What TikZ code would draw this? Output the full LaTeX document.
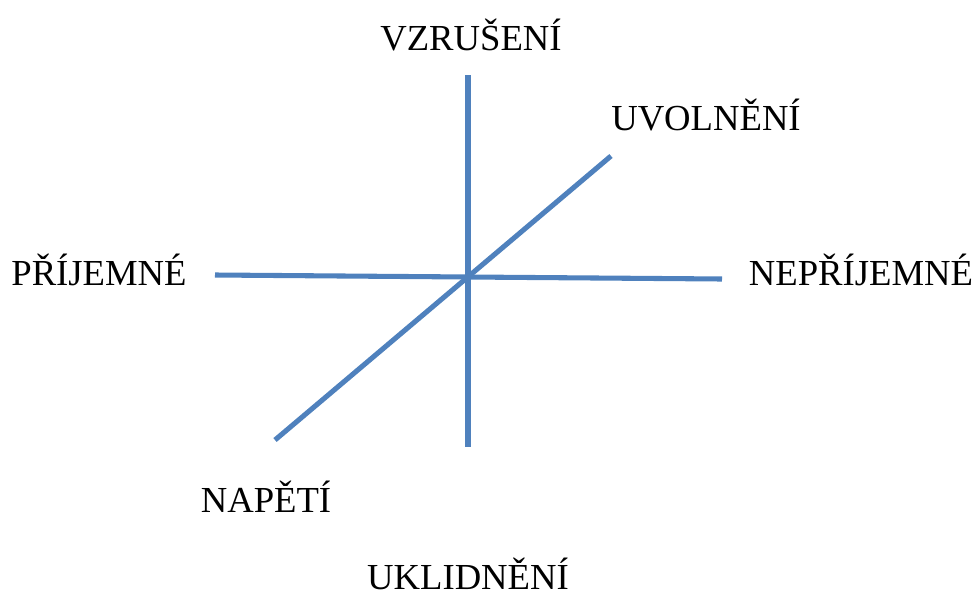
\documentclass[tikz,border=0pt]{standalone}
\usepackage{fontspec}
\setmainfont{Liberation Serif}
\definecolor{axisblue}{RGB}{79, 129, 189}
\usetikzlibrary{positioning}

\begin{document}
\begin{tikzpicture}[x=0.75pt, y=-0.75pt,
                    axis/.style={axisblue, line width=3.8pt},
                    pole/.style={font=\fontsize{27.5}{33}\selectfont, anchor=base, inner sep=0pt}]
                    \useasboundingbox (0, 0) rectangle (976, 597);
                    \coordinate (vtop) at (468, 75);
                    \coordinate (vbot) at (468, 447);
                    \coordinate (hleft) at (215, 275);
                    \coordinate (hright) at (722, 279);
                    \coordinate (dlow) at (275, 440);
                    \coordinate (dhigh) at (611, 156);
                    \draw[axis] (vtop) -- (vbot);
                    \draw[axis] (hleft) -- (hright);
                    \draw[axis] (dlow) -- (dhigh);
                    \node[pole] (vzruseni) at (471, 50) {VZRUŠENÍ};
                    \node[pole] (uvolneni) at (706, 130) {UVOLNĚNÍ};
                    \node[pole] (prijemne) at (99, 285) {PŘÍJEMNÉ};
                    \node[pole] (neprijemne) at (861, 285) {NEPŘÍJEMNÉ};
                    \node[pole] (napeti) at (266, 512) {NAPĚTÍ};
                    \node[pole] (uklidneni) at (468, 589) {UKLIDNĚNÍ};
                \end{tikzpicture}
\end{document}
